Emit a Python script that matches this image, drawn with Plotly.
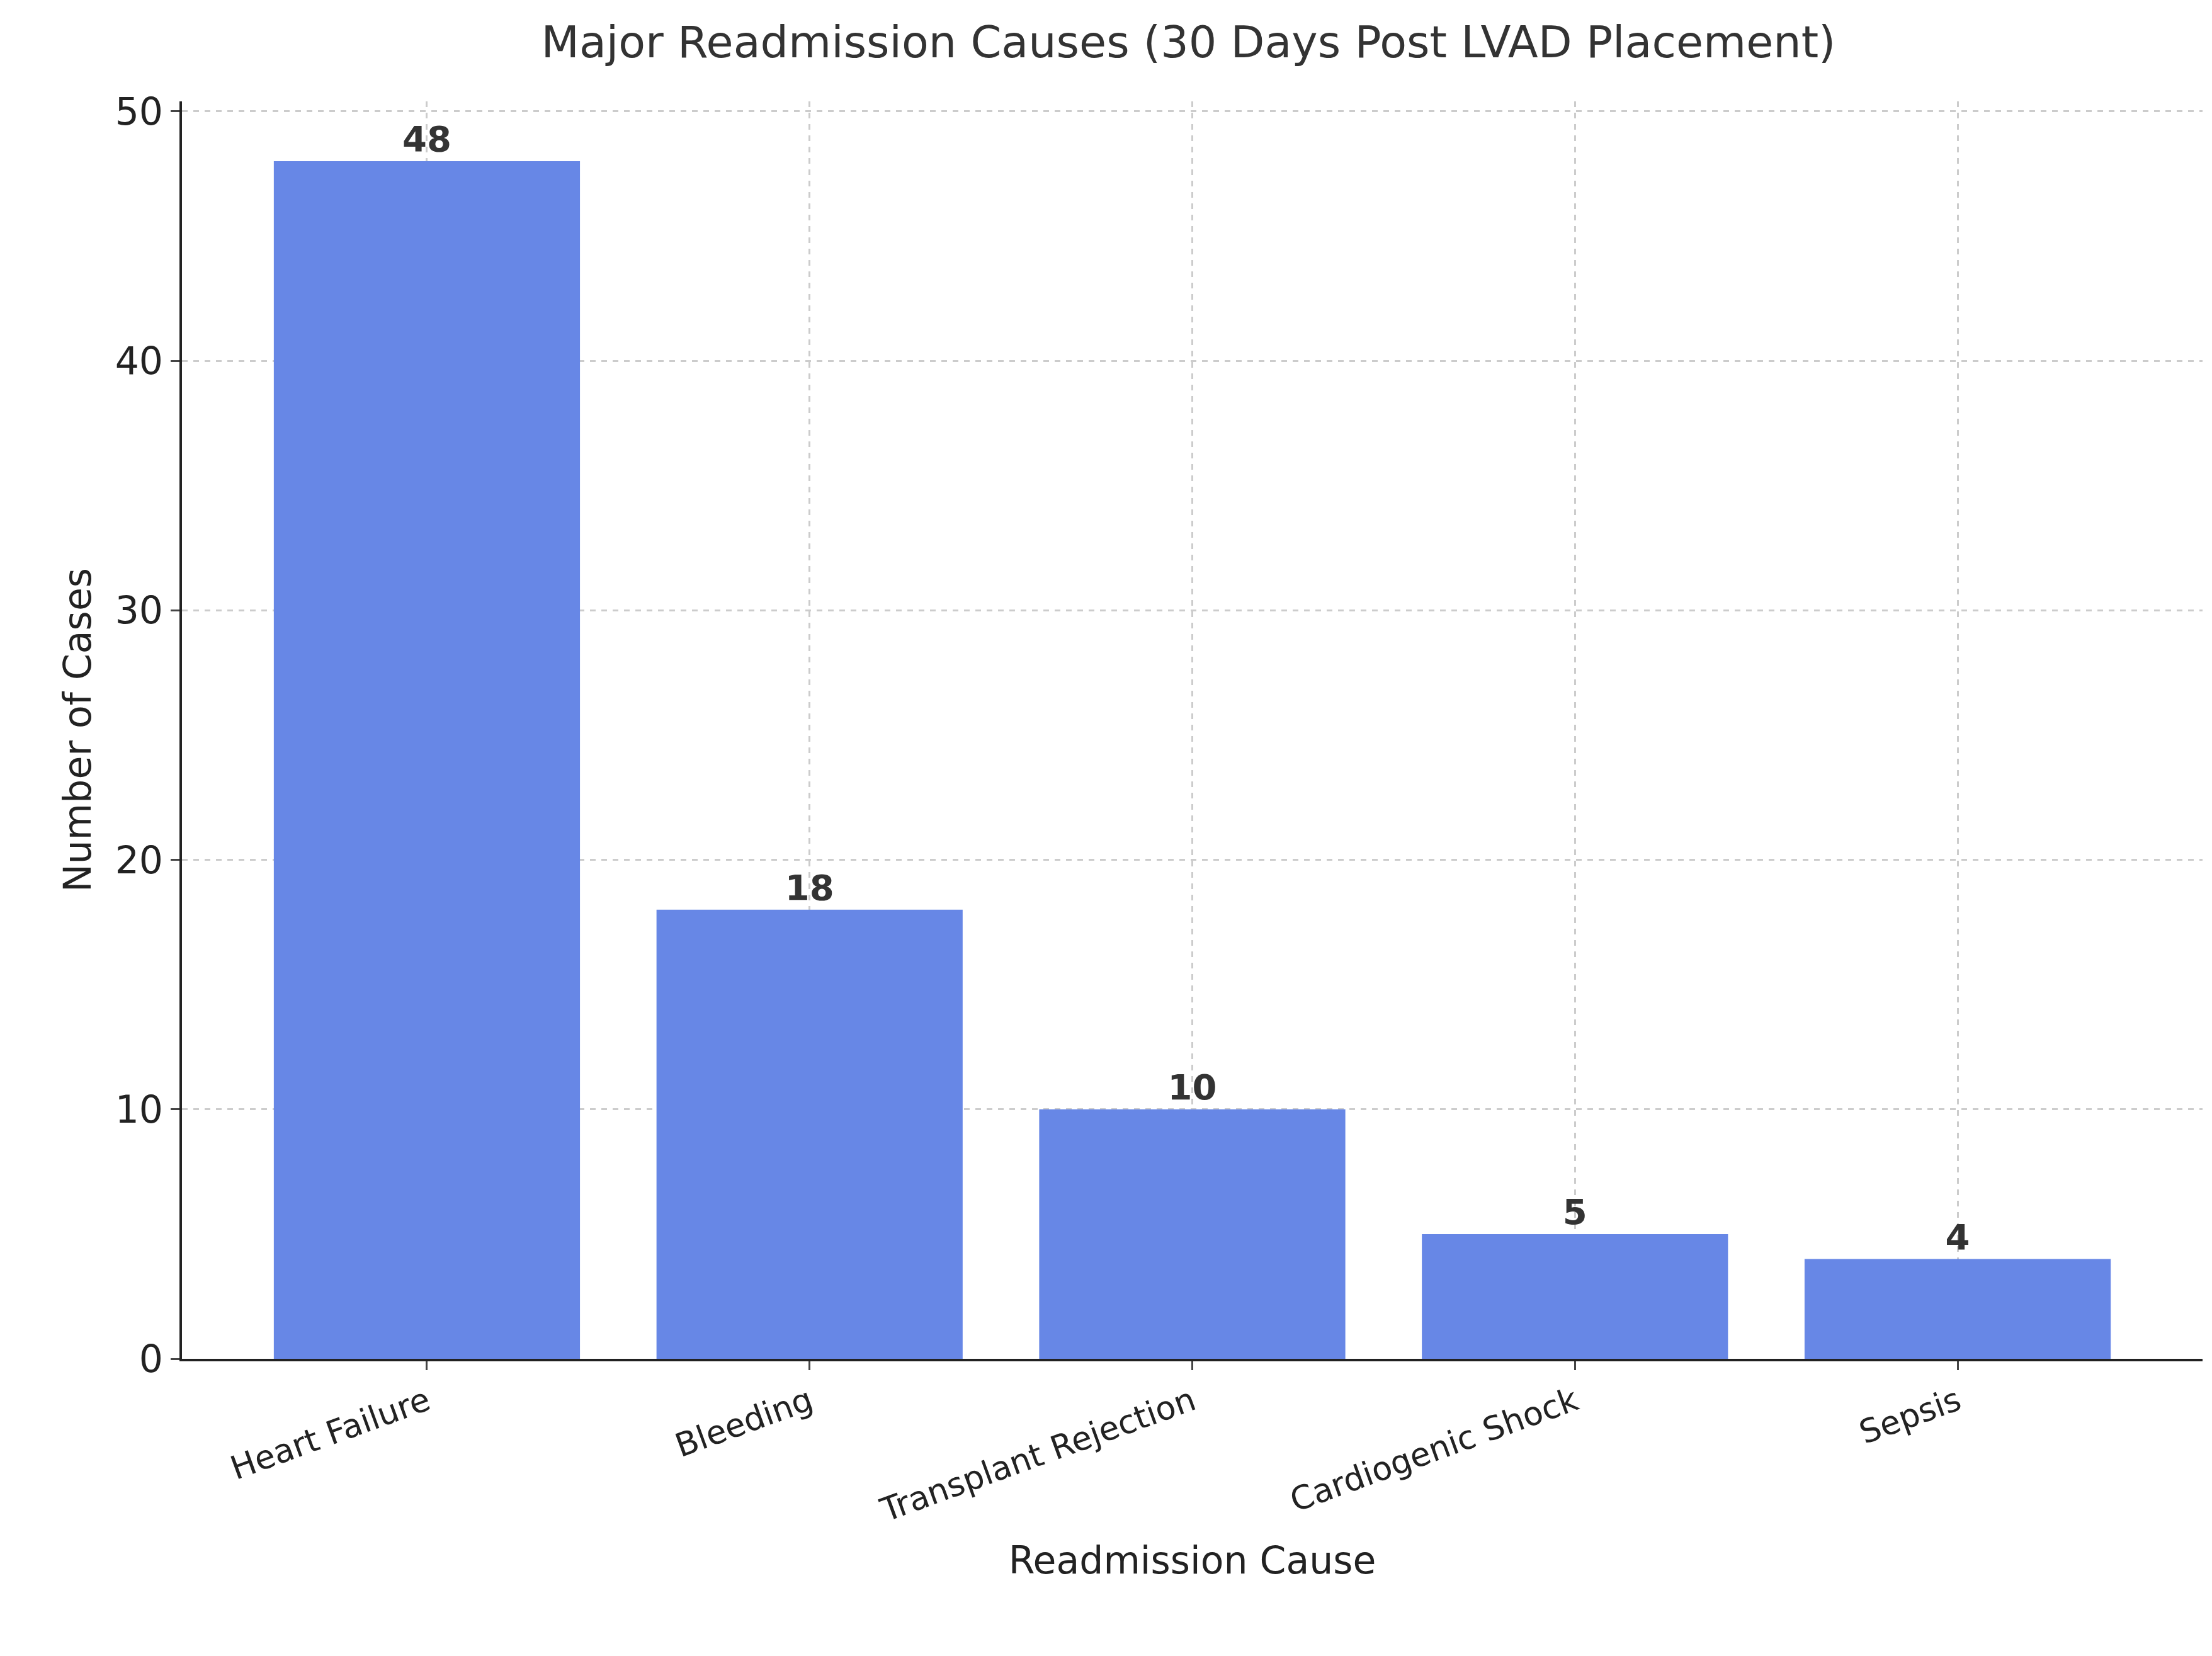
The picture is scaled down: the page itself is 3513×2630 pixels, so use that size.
import plotly.graph_objects as go

causes = ["Heart Failure", "Bleeding", "Transplant Rejection", "Cardiogenic Shock", "Sepsis"]
cases = [48, 18, 10, 5, 4]
y_ticks = [0, 10, 20, 30, 40, 50]

fig = go.Figure(go.Bar(
    x=causes, y=cases, width=0.8,
    marker=dict(color="#6787E6", line=dict(width=0)),
    text=[f"<b>{v}</b>" for v in cases], textposition="outside",
    textfont=dict(size=56, color="#333333"), cliponaxis=False,
))
fig.update_layout(
    width=3513, height=2630, plot_bgcolor="white", paper_bgcolor="white",
    font=dict(family="DejaVu Sans", color="#222222"),
    margin=dict(l=281, r=23, t=153, b=480),
    title=dict(text="Major Readmission Causes (30 Days Post LVAD Placement)",
               x=0.535, xanchor="center", y=0.987, yanchor="top",
               font=dict(size=70, color="#333333")),
    bargap=0.2, showlegend=False,
)
fig.update_xaxes(
    range=[-0.64, 4.64], tickangle=-20, tickfont=dict(size=52),
    showline=True, linecolor="#222222", linewidth=4, ticks="outside",
    ticklen=14, tickwidth=3, showgrid=True, gridcolor="#cccccc",
    griddash="dash", gridwidth=3,
    title=dict(text="Readmission Cause", font=dict(size=60), standoff=30),
)
fig.update_yaxes(
    range=[0, 50.4], tickvals=y_ticks, tickfont=dict(size=60),
    showline=True, linecolor="#222222", linewidth=4, ticks="outside",
    ticklen=14, tickwidth=3, showgrid=True, gridcolor="#cccccc",
    griddash="dash", gridwidth=3, zeroline=False,
    title=dict(text="Number of Cases", font=dict(size=60), standoff=20),
)
fig.write_html("out.html")
